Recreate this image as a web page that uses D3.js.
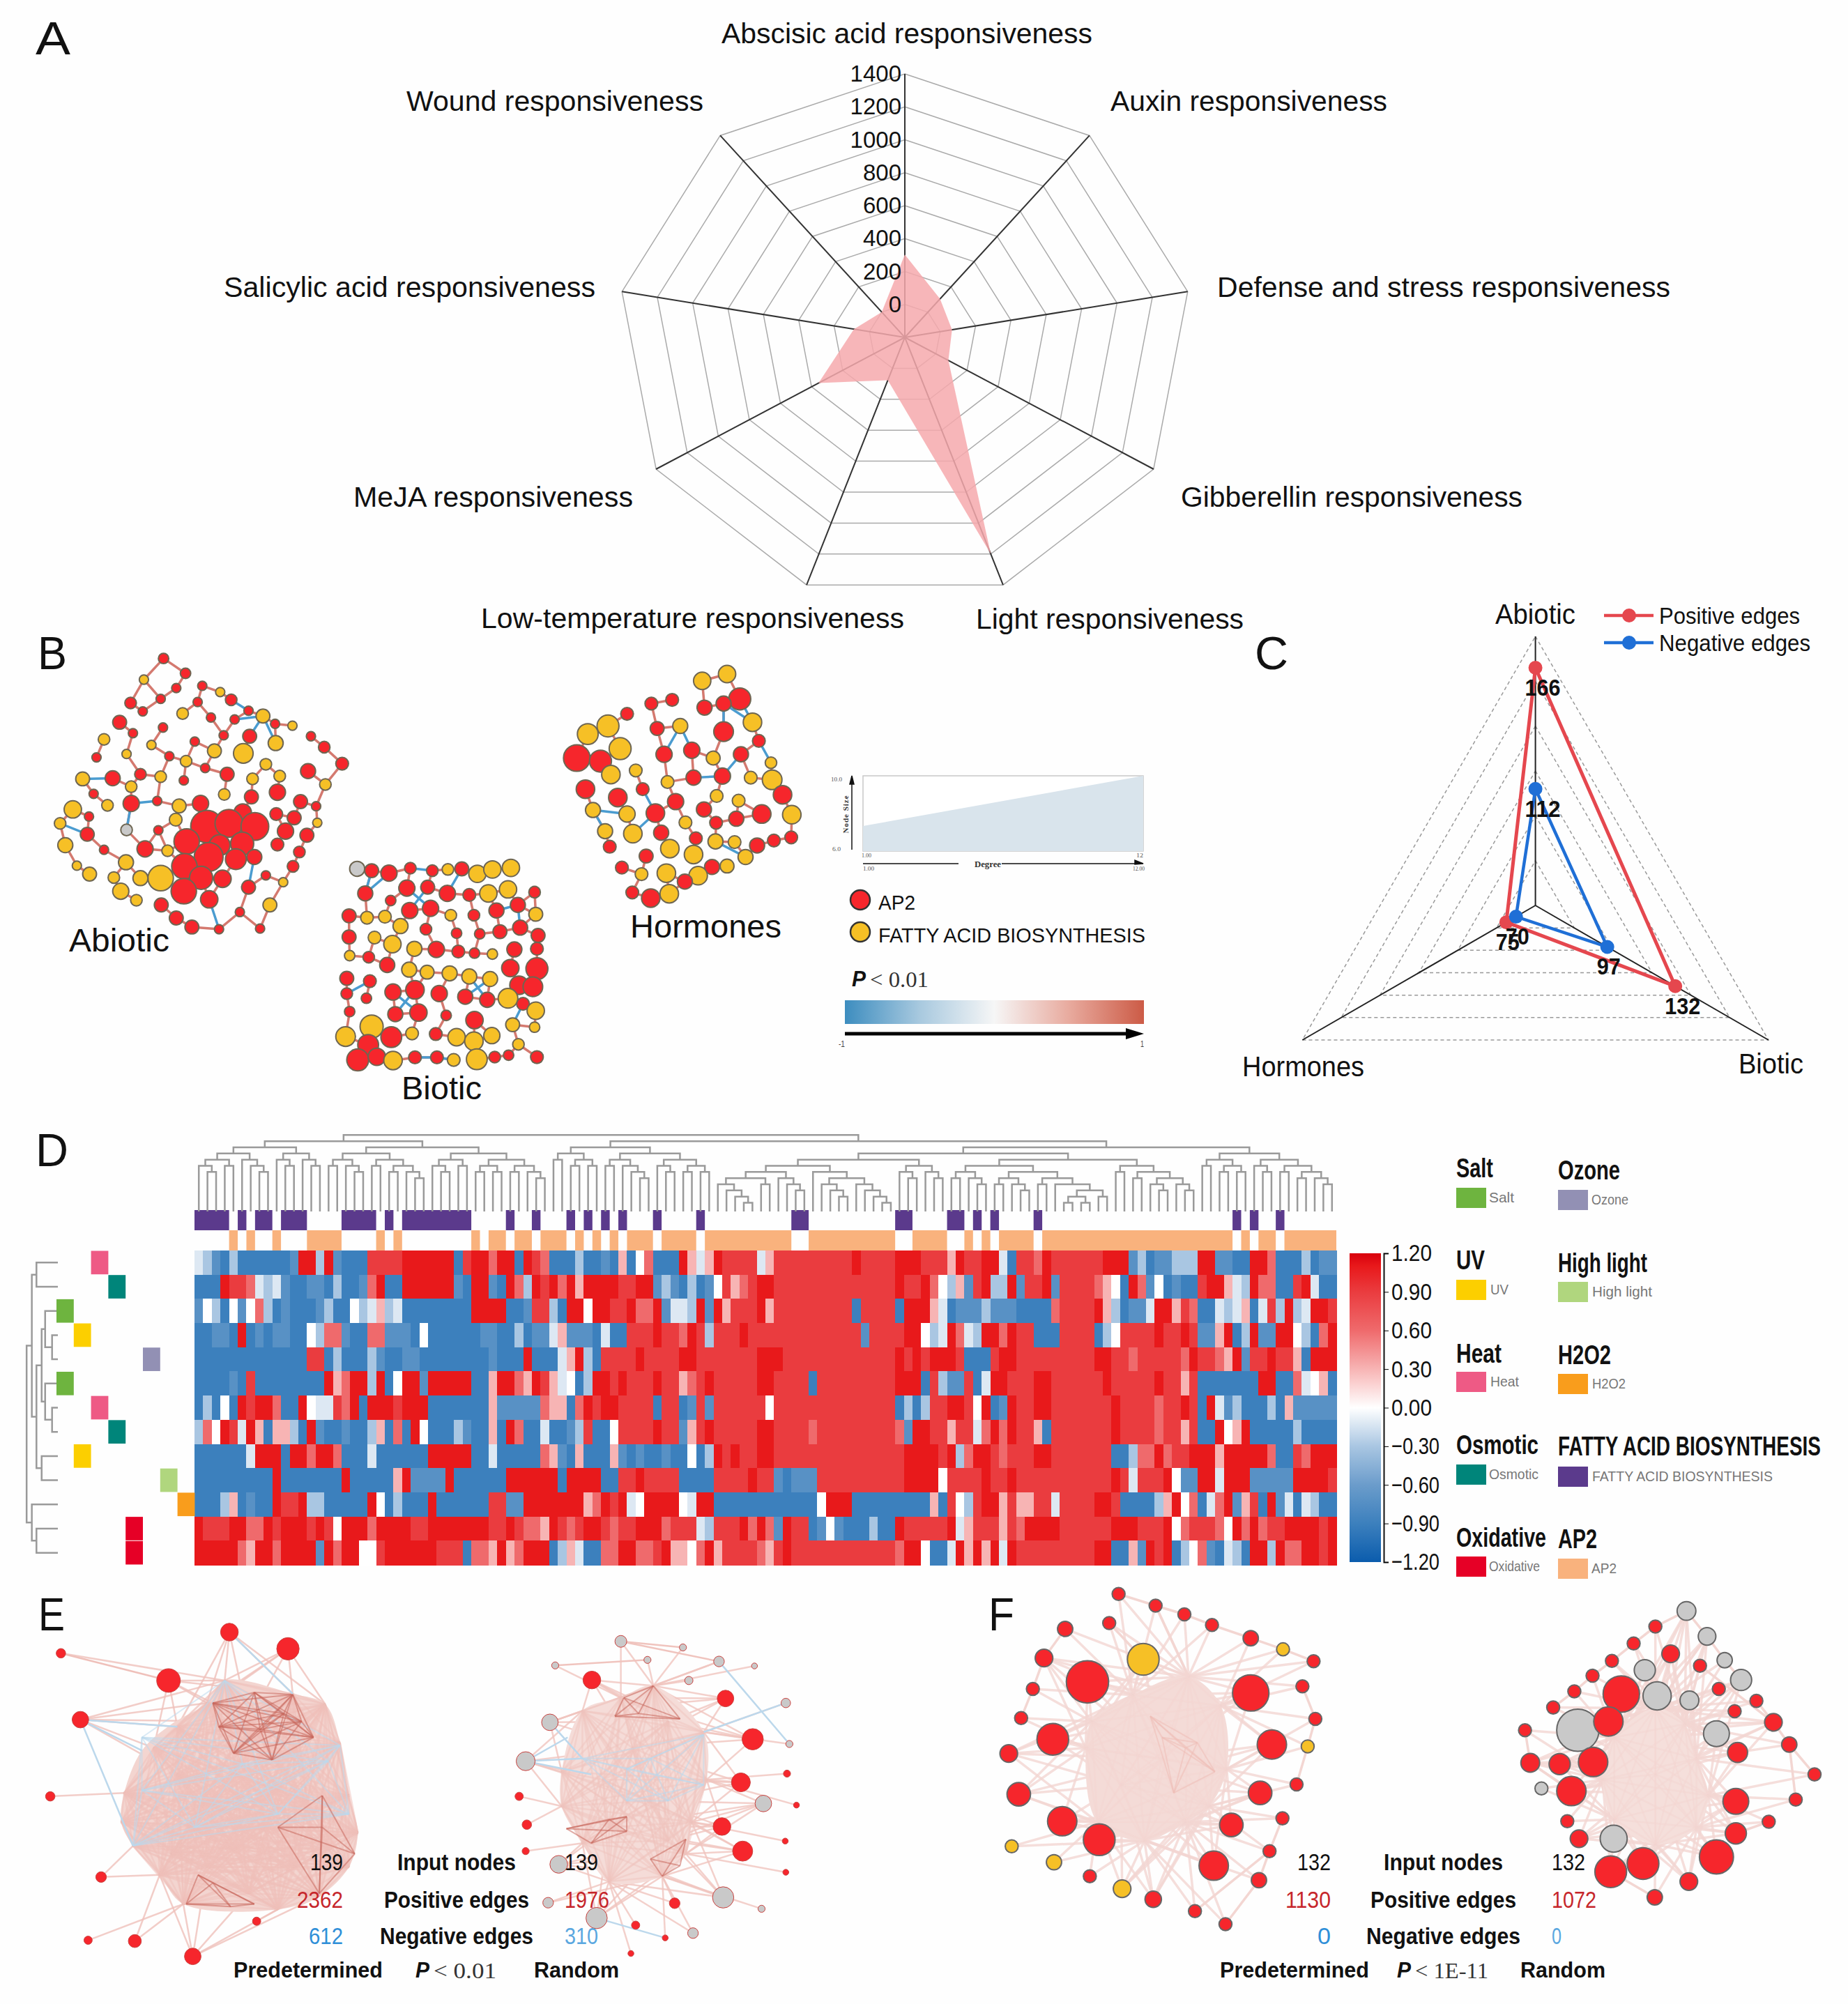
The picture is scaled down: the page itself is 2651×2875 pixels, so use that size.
<!DOCTYPE html>
<html><head><meta charset="utf-8">
<script src="https://cdn.jsdelivr.net/npm/d3@7"></script>
<style>html,body{margin:0;background:#fefefe}svg{display:block}text{font-family:"Liberation Sans",Arial,sans-serif;fill:#111}</style>
</head><body><svg id="c" width="2651" height="2875"></svg>
<script>
// ---------- panel A data
const radarCategories=["Abscisic acid responsiveness","Auxin responsiveness","Defense and stress responsiveness","Gibberellin responsiveness","Light responsiveness","Low-temperature responsiveness","MeJA responsiveness","Salicylic acid responsiveness","Wound responsiveness"];
const radarValues=[303,105,67,80,1200,77,355,88,0];
const radarTicks=[0,200,400,600,800,1000,1200,1400];
// ---------- panel C data
const triCategories=["Abiotic","Biotic","Hormones"];
const triPositive=[166,132,75];
const triNegative=[112,97,70];
const triRings=[80,100,120,140,160,180];
// ---------- panel D data
const heatA=["ilmblbbbbbbmRRlRmbbbrrrrRRRRRRbrRRsRRbRrsbbb","bbbRrrsilimbbmmblbbmsRbbRRRRRRmbRRmbRslRrRsR","mwlbwmwslbmbbbmlbbwliplibbbbbbbbRRRRbbmrrlbR","bbmmbRbmbmmbbwlssmbbssmmmbwbbbbbbmmbblbmmipm","bbbbbbbbbbbbbrrblbbblmbbmmbbbbbbbbmbbbRbbbip","bbbbmbrbbbbbbbbRpsRRlRbwRRmRRRRRbbpRRspRrpiw","blbwbRrRRsbbRwiirsRbRRRrRRRbbbbbbbpmmmmmsppb","lswRriRpbpplbRmbbmbblpbsbRwbbblmbbpbRsbbibbm","bbbbbbiRRRbRRsRRsbbbibbbbbbRRRRRbbibbbbbspmb","bbbbbbbbbRbbbbbbbRbbbbbpRmmmmRbbbbbbRRRRRRbR","bbblpbmbbRrrRllbbbbbRwblbbbRbbbbbbrrmmRRRRRR","RrrrRRssRrRRRrRrwRRRsRRRRrrRRRRRRRrrRrsspRrs","RRRRRspRRsRRRRmRsRRwwrRRRRRRrrrbsspRpsRRRblp"];
const heatB=["lbbmbpbwsbbbRpipRrrrriprrrrrrrrrRrrrrRRRrrrp","pRRRRrrRRmlmblbmwrpsrRRrrrrrrrrrrrrrrRrrRswl","RwRRrrRssRmiilRmRprrrRprrrrrrrrrbrrrrbRRRpib","mmbibbrrrRrrsRrlrrrRrrrrrrrrrrrrrmrrrrRRwliR","RlbrrrrRrrrrRRrrrrrrrRRRrrrrrrrrrrrrrRrRrRRR","blRRrRrrrRrrpsrRrrrrrRRrrrrbrrrrrrrrrRRRbrlm","sRrRRrrrrbrrbmrmrrrrrrwrrrrrrrrrrrrrrblblrrR","lrbbwrrrrRrrmprRrrrrrRRrrrrsrrrrrrrrrsmRRrrp","pbbbpmbmbbmbbwblRrRrrRRrrrrrrrrrrrrrrrRRRRrR","RRRbbrrRrrrrbbbbrrrrRrrmbmmmrrrrrrrrrrRRRRwr","RpsRrRiwRRRRwiRRbbbbbbbbbbbbwRRRbbbbbbbbbpbr","rRRrsrrRRRsrrrilrrrRsRsmRrrbmwmbbblbbRrrrrrR","ibbssRRssrRppwsRprrrrsprRrrrrrrrrrrrrsRRwbbi"];
const heatC=["RrrRRibrrsRrrrrrrRRRmlbmmlllRRmmbbRRsbbblbmm","pmrRllRmrrRmrrrrspwbRsmwbmbbrRRpilRssbbrRibb","mmmlmmmbbbbsrrrrRplbmmiRRprsbbilipbirlRliRRr","silRRsRrrbbbrrrrblwrrrrRrrRrmmpRblRmmRRwlbsR","rbbbrRRrrrrrrrrrRRrrsrrrrrsRrrspRmrrRrrpbRRR","mrbiRRrrrRRrrrrrrRrrrrrRrrprbbbbbbbRRbbsiwpb","RrwRbmRrrRRrrrrrrrRrrrrsrrRrbRimlbbblbpmmmmm","rrisRsRrrpbrrrrrrrRrrrrsrrprbbRwpRbbbbblbbbb","lsRRrsrrrRRrrrrrrrbblssRsrrRRRpRRRRRsbbrsRRR","rrrRrrRrrrrrrrrrrrRrirrrRwmmRRiRRRmmmmmRRRRr","wlrRRprpprrirrrrRRrbbbblpRwsbisRmprbRmibilbb","iprrrprsRRRRrrrrrrRRRrrrRwsrrrswRsRsrrRRRRrR","RpRpRiRrrrrrrrrrRRbbpmRrRblwsmbilbRRlRssRRrR"];
const heatLevels={b:-.9,m:-.72,l:-.3,i:-.12,w:0,p:.3,s:.6,r:.9,R:1.1};
const colorTicks=[1.2,.9,.6,.3,0,-.3,-.6,-.9,-1.2];
const rowGroups=["Heat","Osmotic","Salt","UV","Ozone","Salt","Heat","Osmotic","UV","High light","H2O2","Oxidative","Oxidative"];
const groupOrder=["Salt","UV","Heat","Osmotic","Oxidative","Ozone","High light","H2O2"];
const groupColors=["#6eb43f","#fccf00","#ee5a85","#00857a","#e60026","#9290b4","#b0d67e","#f99d1c"];
const fattyCols=[[0,3],[5,5],[7,8],[10,12],[17,20],[22,22],[24,31],[36,36],[39,39],[43,43],[45,45],[47,47],[49,49],[53,53],[58,58],[69,70],[81,82],[87,88],[90,90],[92,92],[97,97],[120,120],[122,122],[125,125]];
const ap2Cols=[[4,4],[6,6],[9,9],[13,16],[21,21],[23,23],[32,32],[34,35],[37,38],[40,42],[44,44],[46,46],[48,48],[50,52],[54,57],[59,68],[71,80],[83,86],[89,89],[91,91],[93,96],[98,119],[121,121],[123,124],[126,131]];
const colTreeA=[2,[3,[4,[5,0,[6,0,0]],[5,0,0]],[4,0,[5,0,[6,0,0]]]],[3,[4,0,[5,0,0]],[4,0,[5,0,0]]]];
const colTreeB=[2,[3,[4,[5,0,0],[5,0,[6,0,0]]],[4,[5,0,0],[5,[6,0,0],[6,0,[7,0,0]]]]],[3,[4,[5,0,[6,0,0]],[5,0,0]],[4,[5,[6,0,0],[6,0,0]],[5,[6,0,0],[6,0,[7,0,0]]]]]];
const colTreeC=[2,[3,[4,0,0],[4,[5,0,0],[5,0,0]]],[3,[4,[5,0,0],[5,0,[6,0,[7,0,0]]]],[4,[5,0,[6,0,0]],[5,[6,0,0],[6,0,0]]]]];
const colTreeD=[2,[3,[4,[5,[6,[7,[8,0,[9,0,[10,0,[11,0,0]]]],[8,0,0]],[7,0,[8,0,[9,0,0]]]],[6,0,[7,[8,0,[9,0,[10,0,0]]],[8,0,[9,0,[10,0,[11,0,0]]]]]]],[5,[6,0,[7,0,0]],[6,0,[7,0,0]]]],[4,[5,[6,[7,0,0],[7,0,[8,0,0]]],[6,[7,[8,0,0],[8,0,[9,0,0]]],[7,[8,0,0],[8,0,[9,[10,[11,0,0],[11,0,0]],[10,0,0]]]]]],[5,[6,0,0],[6,[7,0,0],[7,[8,0,[9,0,0]],[8,0,[9,0,0]]]]]]],[3,[4,[5,0,0],[5,[6,0,0],[6,0,0]]],[4,[5,0,[6,0,0]],[5,[6,0,0],[6,[7,0,0],[7,0,[8,0,0]]]]]]];
const rowTree=[46,[55,[63,0,0],[63,[72,[78,0,[90,0,0]],[78,0,[90,0,0]]],[72,0,0]]],[55,0,[63,0,0]]];
// ---------- panel B data: [x, y, size, kind]
const abioticNodes=[[283,100,9,"r"],[321,148,9,"r"],[249,168,8,"y"],[305,195,8,"r"],[350,188,8,"r"],[381,208,8,"y"],[226,243,10,"r"],[278,230,8,"r"],[342,240,8,"r"],[400,233,10,"r"],[247,270,8,"r"],[316,277,10,"y"],[430,268,8,"r"],[455,285,12,"y"],[207,305,12,"r"],[365,290,8,"r"],[406,296,8,"r"],[282,322,8,"r"],[476,310,8,"r"],[506,316,8,"y"],[180,360,10,"y"],[230,340,8,"r"],[387,347,8,"r"],[432,350,12,"r"],[538,350,8,"r"],[337,367,8,"r"],[477,372,13,"y"],[262,378,8,"y"],[561,385,10,"r"],[371,397,12,"y"],[421,405,17,"y"],[219,407,8,"y"],[293,414,8,"r"],[167,418,8,"r"],[322,430,10,"y"],[592,438,11,"r"],[460,440,10,"y"],[355,452,8,"r"],[533,462,13,"r"],[195,485,13,"r"],[243,472,10,"r"],[143,487,12,"y"],[393,472,12,"r"],[278,480,10,"y"],[484,478,10,"y"],[318,492,8,"r"],[437,487,10,"y"],[563,505,10,"y"],[227,512,10,"y"],[480,530,14,"r"],[388,537,10,"y"],[162,535,8,"r"],[435,545,12,"r"],[272,558,8,"r"],[347,566,14,"r"],[227,566,14,"r"],[186,572,10,"y"],[310,574,12,"y"],[520,560,12,"r"],[547,575,8,"r"],[126,585,15,"y"],[420,595,15,"r"],[478,600,11,"r"],[154,608,8,"r"],[304,618,11,"y"],[509,612,12,"r"],[358,640,28,"r"],[396,630,24,"r"],[441,640,24,"r"],[104,630,10,"y"],[549,628,8,"y"],[219,651,10,"g"],[274,652,8,"r"],[151,665,12,"r"],[494,655,14,"r"],[531,668,12,"r"],[323,688,22,"r"],[419,695,20,"r"],[113,700,13,"y"],[480,698,11,"r"],[180,715,8,"r"],[251,712,14,"r"],[290,718,10,"y"],[380,700,18,"r"],[361,738,25,"r"],[518,722,10,"r"],[440,738,13,"r"],[408,745,18,"r"],[218,755,13,"y"],[133,766,8,"y"],[319,768,22,"r"],[507,768,10,"r"],[155,793,12,"y"],[278,806,22,"y"],[243,806,13,"y"],[197,804,10,"y"],[348,805,20,"r"],[385,808,15,"r"],[460,797,8,"r"],[490,819,8,"y"],[430,835,12,"r"],[318,848,22,"r"],[209,848,14,"y"],[362,874,15,"r"],[236,877,10,"y"],[279,892,12,"r"],[467,892,12,"y"],[415,915,8,"r"],[305,934,12,"r"],[332,963,12,"r"],[379,970,8,"r"],[450,968,8,"r"]];
const bioticNodes=[[618,776,13,"g"],[643,782,12,"r"],[673,790,14,"r"],[710,774,10,"r"],[748,782,10,"r"],[775,778,10,"y"],[799,776,12,"r"],[826,792,15,"y"],[852,778,15,"y"],[884,773,15,"y"],[632,855,13,"r"],[704,838,14,"r"],[740,835,12,"r"],[774,855,14,"r"],[812,860,11,"r"],[845,855,15,"y"],[879,842,15,"y"],[925,851,10,"r"],[676,878,9,"r"],[709,910,14,"r"],[745,903,14,"r"],[859,910,13,"r"],[896,892,13,"r"],[780,925,10,"y"],[820,925,10,"r"],[927,922,12,"y"],[604,927,12,"r"],[635,933,11,"y"],[666,930,11,"y"],[693,960,13,"y"],[900,965,13,"r"],[865,978,12,"r"],[737,970,10,"r"],[604,995,12,"r"],[790,983,9,"r"],[830,985,9,"r"],[931,990,12,"r"],[648,997,11,"y"],[679,1018,15,"y"],[717,1033,13,"y"],[755,1035,14,"r"],[793,1042,11,"r"],[821,1047,9,"r"],[852,1050,9,"y"],[890,1035,13,"r"],[929,1033,11,"r"],[605,1055,9,"y"],[638,1060,10,"r"],[670,1085,13,"r"],[708,1100,13,"y"],[883,1095,15,"r"],[929,1097,19,"r"],[739,1108,12,"y"],[778,1112,13,"y"],[600,1128,12,"r"],[640,1137,11,"r"],[812,1122,13,"y"],[848,1130,13,"y"],[898,1150,16,"r"],[922,1155,17,"r"],[680,1172,14,"r"],[718,1165,16,"r"],[760,1177,14,"r"],[805,1187,13,"r"],[843,1197,13,"r"],[879,1192,17,"y"],[600,1177,10,"r"],[634,1192,9,"r"],[905,1210,11,"r"],[927,1232,15,"y"],[605,1235,9,"r"],[684,1243,13,"r"],[724,1238,15,"r"],[772,1247,9,"r"],[821,1262,15,"r"],[887,1277,12,"y"],[925,1285,9,"y"],[643,1283,20,"y"],[598,1315,17,"y"],[677,1317,18,"r"],[713,1305,11,"y"],[754,1307,11,"r"],[790,1317,15,"y"],[820,1330,16,"y"],[851,1312,14,"y"],[897,1340,10,"y"],[637,1342,18,"r"],[619,1390,19,"r"],[652,1380,15,"r"],[680,1392,16,"y"],[718,1382,11,"r"],[756,1382,11,"r"],[785,1390,11,"y"],[825,1388,18,"y"],[856,1381,10,"r"],[880,1375,9,"r"],[929,1381,11,"r"]];
const hormoneNodes=[[1258,150,15,"y"],[1215,172,15,"y"],[1280,230,19,"r"],[1252,245,13,"r"],[1219,258,13,"r"],[1163,233,11,"r"],[1127,245,11,"r"],[1085,278,11,"r"],[1302,305,16,"y"],[1252,335,17,"r"],[1052,317,19,"y"],[1017,343,18,"y"],[1137,325,12,"r"],[1177,317,13,"y"],[1073,390,19,"y"],[1313,365,11,"r"],[998,420,23,"r"],[1039,430,19,"r"],[1149,408,14,"r"],[1197,395,14,"r"],[1282,408,13,"r"],[1234,420,12,"y"],[1334,435,10,"y"],[1250,478,14,"r"],[1100,460,11,"y"],[1057,473,16,"y"],[1200,483,13,"r"],[1299,483,11,"y"],[1336,490,17,"y"],[1155,497,11,"y"],[1013,520,16,"r"],[1112,520,11,"r"],[1354,538,16,"r"],[1069,547,16,"r"],[1240,542,11,"y"],[1169,560,14,"r"],[1278,557,11,"y"],[1218,585,13,"r"],[1026,587,13,"y"],[1134,597,16,"r"],[1085,600,14,"y"],[1318,600,16,"r"],[1370,602,16,"y"],[1274,615,13,"r"],[1239,628,11,"r"],[1186,627,11,"y"],[1144,660,13,"r"],[1047,655,13,"y"],[1095,663,16,"y"],[1055,705,11,"r"],[1204,678,11,"r"],[1238,688,13,"y"],[1271,690,11,"y"],[1369,675,11,"r"],[1339,685,11,"r"],[1310,701,13,"r"],[1159,711,16,"y"],[1200,730,16,"y"],[1118,735,12,"r"],[1290,738,13,"y"],[1076,772,11,"r"],[1258,767,12,"y"],[1232,770,13,"r"],[1153,790,16,"y"],[1110,793,11,"y"],[1208,798,16,"y"],[1185,817,13,"r"],[1094,852,11,"r"],[1126,870,16,"r"],[1158,856,16,"y"]];
const networkBlueEdges=[[406,296,455,285],[400,233,430,268],[455,285,477,372],[455,285,432,350],[143,487,195,485],[227,566,272,558],[227,566,219,651],[104,630,151,665],[430,835,440,738],[362,874,379,970],[643,782,632,855],[673,790,632,855],[710,774,748,782],[799,776,774,855],[704,838,745,903],[740,835,709,910],[859,910,896,892],[896,892,900,965],[600,1177,640,1137],[680,1172,724,1238],[718,1165,684,1243],[805,1187,848,1130],[843,1197,812,1122],[718,1382,756,1382],[756,1382,785,1390],[905,1210,887,1277],[1252,245,1302,305],[1252,245,1252,335],[1280,230,1302,305],[1177,317,1149,408],[1177,317,1197,395],[1282,408,1250,478],[1250,478,1200,483],[1313,365,1334,435],[1026,587,1085,600],[1026,587,1047,655],[1112,520,1134,597],[1134,597,1095,663],[1238,688,1290,738]];
// ---------- panels E / F data
const ELeft={hull:[[380,345],[495,395],[550,435],[575,580],[590,780],[605,920],[590,1050],[540,1160],[470,1210],[310,1190],[270,1080],[225,970],[205,880],[210,770],[240,610],[290,510],[350,430]],
 pink:[[260,600],[300,520],[380,345],[495,395],[550,435],[575,580],[590,780],[605,920],[590,1050],[540,1160],[470,1210],[310,1190],[270,1080],[225,970],[205,880],[210,770],[350,430],[400,700],[450,900],[320,900],[500,600],[350,1050],[500,1050],[420,1150],[300,700],[520,800],[420,500],[345,810],[470,760],[400,980],[560,980],[290,1000]],
 blue:[[240,560],[225,970],[330,900],[410,660],[555,650],[575,590],[380,345],[590,850],[240,760],[470,850]],
 dark:[[[360,430],[430,390],[495,398],[510,500],[530,560],[460,645],[395,620],[370,520],[440,530],[480,470]],[[315,1190],[335,1080],[390,1200],[430,1190],[360,1110]],[[545,780],[470,900],[545,900],[540,1150],[600,1000]]],
 nodes:[[103,242,8,"r"],[285,345,20,"r"],[388,162,15,"r"],[487,225,19,"r"],[136,493,14,"r"],[85,783,8,"r"],[171,1088,9,"r"],[149,1327,7,"r"],[228,1330,11,"r"],[326,1388,14,"r"],[434,1255,7,"r"]],
 extra:[[103,242,285,345,"p"],[136,493,300,520,"b"],[136,493,240,610,"b"],[136,493,225,970,"b"],[388,162,495,395,"b"]]};
const ERight={hull:[[1105,365],[1190,540],[1195,720],[1170,880],[1160,1000],[1120,1085],[1030,1105],[985,960],[950,820],[950,690],[985,460],[1050,410]],
 pink:[[1105,365],[1190,540],[1195,720],[1170,880],[1160,1000],[1120,1085],[1030,1105],[985,960],[950,820],[950,690],[985,460],[1050,410],[1070,600],[1100,800],[1030,900],[1130,950],[1020,720],[1130,500]],
 blue:[[985,640],[1100,640],[1190,550],[1190,740],[1060,800],[1130,800],[1060,680]],
 dark:[[[1105,365],[1055,410],[1040,480],[1080,470],[1150,490]],[[1100,1020],[1160,945],[1150,1045],[1120,1085]],[[958,905],[1060,860],[1060,915],[1000,960],[1030,870]]],
 nodes:[[1050,197,10,"g"],[1155,220,6,"g"],[1095,267,6,"g"],[939,288,6,"g"],[1216,273,9,"g"],[1276,290,5,"g"],[1165,345,7,"g"],[1329,430,8,"g"],[1335,585,6,"g"],[930,503,14,"g"],[889,650,16,"g"],[1291,810,14,"g"],[945,1040,15,"g"],[927,1185,9,"g"],[1223,1165,18,"g"],[1009,1243,18,"g"],[1172,1300,9,"g"],[1288,1208,6,"g"],[1001,343,15,"r"],[1227,413,14,"r"],[1273,567,18,"r"],[1253,730,16,"r"],[1331,697,6,"r"],[1347,816,5,"r"],[878,783,7,"r"],[891,890,8,"r"],[889,990,6,"r"],[1221,897,15,"r"],[1328,952,5,"r"],[1256,990,17,"r"],[1329,1070,5,"r"],[1141,1187,9,"r"],[1075,1270,7,"r"],[1125,1318,5,"r"],[1067,1377,5,"r"]],
 extra:[[889,650,985,640,"b"],[889,650,960,560,"b"],[889,650,1000,700,"b"],[930,503,985,640,"b"],[1216,273,1335,585,"b"],[1329,430,1190,540,"b"],[1050,197,1155,220,"p"],[1050,197,1216,273,"p"],[939,288,1095,267,"p"],[1009,1243,1125,1318,"b"]]};
const FLeft={hull:[[445,330],[500,440],[510,680],[480,820],[440,880],[370,950],[290,880],[270,600],[280,500],[350,400]],
 pink:[[445,330],[500,440],[510,680],[480,820],[440,880],[370,950],[290,880],[270,600],[280,500],[350,400],[400,640],[330,740]],
 blue:[],dark:[[[380,480],[440,600],[400,560],[460,580],[420,770],[490,690]]],
 nodes:[[326,18,11,"r"],[389,62,11,"r"],[438,95,11,"r"],[485,135,11,"r"],[551,185,13,"r"],[658,272,11,"r"],[235,150,13,"r"],[310,128,11,"r"],[199,260,15,"r"],[273,350,36,"r"],[368,265,27,"y"],[606,227,11,"y"],[551,392,31,"r"],[639,367,11,"r"],[180,377,11,"r"],[160,487,11,"r"],[661,490,11,"r"],[214,567,27,"r"],[587,587,25,"r"],[648,594,11,"y"],[139,621,15,"r"],[629,738,11,"r"],[156,775,20,"r"],[567,770,20,"r"],[230,877,25,"r"],[518,891,20,"r"],[605,866,11,"r"],[293,947,27,"r"],[144,972,11,"y"],[583,990,11,"r"],[216,1032,13,"y"],[488,1045,25,"r"],[277,1085,11,"r"],[565,1100,13,"r"],[332,1132,15,"y"],[385,1172,14,"r"],[456,1217,11,"r"],[508,1266,11,"r"]],
 extra:[[326,18,389,62,"p"],[389,62,438,95,"p"],[438,95,485,135,"p"],[485,135,551,185,"p"],[551,185,606,227,"p"],[606,227,658,272,"p"],[389,62,445,330,"p"],[235,150,199,260,"p"],[199,260,180,377,"p"],[180,377,160,487,"p"],[310,128,368,265,"p"],[639,367,661,490,"p"],[661,490,648,594,"p"],[648,594,629,738,"p"],[605,866,583,990,"p"],[583,990,565,1100,"p"],[565,1100,508,1266,"p"],[583,990,456,1217,"p"]]};
const FRight={hull:[[1240,450],[1290,510],[1310,640],[1330,780],[1310,900],[1240,965],[1170,870],[1150,720],[1170,560]],
 pink:[[1240,450],[1290,510],[1310,640],[1330,780],[1310,900],[1240,965],[1170,870],[1150,720],[1170,560],[1240,700]],
 blue:[],dark:[],
 nodes:[[1293,82,16,"g"],[1328,178,15,"g"],[1358,268,13,"g"],[1386,343,18,"g"],[1222,306,18,"g"],[1243,403,24,"g"],[1298,420,16,"g"],[1108,533,36,"g"],[1344,546,22,"g"],[1046,753,11,"g"],[1169,943,23,"g"],[1240,141,11,"r"],[1203,205,11,"r"],[1266,244,15,"r"],[1166,271,11,"r"],[1316,289,11,"r"],[1133,327,11,"r"],[1348,377,11,"r"],[1102,386,11,"r"],[1182,396,31,"r"],[1412,422,11,"r"],[1066,447,11,"r"],[1375,461,11,"r"],[1160,500,25,"r"],[1441,503,15,"r"],[1018,533,11,"r"],[1468,587,13,"r"],[1380,617,17,"r"],[1027,656,16,"r"],[1077,661,18,"r"],[1134,653,25,"r"],[1511,700,11,"r"],[1097,763,25,"r"],[1377,802,22,"r"],[1479,795,11,"r"],[1090,877,11,"r"],[1433,879,11,"r"],[1377,923,18,"r"],[1110,943,15,"r"],[1344,1012,29,"r"],[1219,1037,27,"r"],[1164,1068,27,"r"],[1297,1105,15,"r"],[1239,1165,13,"r"]],
 extra:[[1293,82,1240,141,"p"],[1240,141,1203,205,"p"],[1203,205,1166,271,"p"],[1166,271,1133,327,"p"],[1133,327,1102,386,"p"],[1102,386,1066,447,"p"],[1293,82,1328,178,"p"],[1328,178,1358,268,"p"],[1358,268,1386,343,"p"],[1316,289,1441,503,"p"],[1441,503,1468,587,"p"],[1468,587,1511,700,"p"],[1468,587,1479,795,"p"],[1441,503,1412,422,"p"],[1018,533,1027,656,"p"],[1433,879,1377,923,"p"],[1097,763,1027,656,"p"],[1239,1165,1164,1068,"p"]]};
const statsE=[["139","2362","612"],["139","1976","310"]];
const statsF=[["132","1130","0"],["132","1072","0"]];
const statLabels=["Input nodes","Positive edges","Negative edges"];

const svg=d3.select("#c");
const g=svg.append("g");
// text fitted to an exact span, so the squeezed lettering of the figure is kept
function fit(x0,x1,y,s,size,o={}){
 return g.append("text").attr("x",x0).attr("y",y).attr("dy",".35em").attr("font-size",size)
  .attr("textLength",x1-x0).attr("lengthAdjust","spacingAndGlyphs")
  .attr("font-weight",o.weight||null).attr("font-style",o.style||null)
  .style("fill",o.fill||"#111").style("font-family",o.family||null).text(s);
}
[["A",51,101,55],["B",54,96,937],["C",1800,1848,937],["D",51,98,1650],["E",55,93,2316],["F",1418,1455,2316]].forEach(d=>fit(d[1],d[2],d[3],d[0],66));

// ---------- A: radar
(function(){
 const cx=1298,cy=484,sx=1.09;
 const r=d3.scaleLinear().domain([-200,1400]).range([0,378]);
 const ang=d3.scaleLinear().domain([0,radarCategories.length]).range([0,2*Math.PI]);
 const pt=(i,v)=>[cx+sx*r(v)*Math.sin(ang(i)),cy-r(v)*Math.cos(ang(i))];
 const line=d3.line().curve(d3.curveLinearClosed);
 radarTicks.forEach(t=>g.append("path").attr("d",line(radarCategories.map((c,i)=>pt(i,t)))).attr("fill","none").attr("stroke","#aaa").attr("stroke-width",1.5));
 radarCategories.forEach((c,i)=>{const p=pt(i,1400);g.append("line").attr("x1",cx).attr("y1",cy).attr("x2",p[0]).attr("y2",p[1]).attr("stroke","#333").attr("stroke-width",2)});
 g.append("path").attr("d",line(radarValues.map((v,i)=>pt(i,v)))).attr("fill","#f6a9ad").attr("fill-opacity",.85);
 const ax=d3.axisLeft(d3.scaleLinear().domain([-200,1400]).range([cy,cy-378])).tickValues(radarTicks).tickFormat(d3.format("d")).tickSize(0).tickPadding(5);
 const a=g.append("g").attr("transform",`translate(${cx},0)`).call(ax);
 a.select(".domain").remove();
 a.selectAll("text").attr("font-size",33).style("fill","#111");
 const spans=[[1035,1567,48],[1593,1990,145],[1746,2396,412],[1694,2184,713],[1400,1784,888],[690,1297,887],[507,908,713],[321,854,412],[583,1009,145]];
 radarCategories.forEach((c,i)=>fit(spans[i][0],spans[i][1],spans[i][2],c,40));
})();

// ---------- B: networks
const bx=d3.scaleLinear().domain([0,1568]).range([0,1300]);
const by=d3.scaleLinear().domain([0,1568]).range([900,1600]);
const kindFill={r:"#f6262c",y:"#f6c026",g:"#c9c9c9"};
function autoEdges(nodes){
 const seen=new Set(),out=[];
 nodes.forEach((n,i)=>{
  const order=nodes.map((m,j)=>[Math.hypot(bx(m[0])-bx(n[0]),by(m[1])-by(n[1])),j]).filter(d=>d[1]!==i).sort((a,b)=>a[0]-b[0]);
  order.slice(0,2).forEach((d,k)=>{
   if(k==1&&d[0]>order[0][0]*1.15)return;
   const key=Math.min(i,d[1])+"-"+Math.max(i,d[1]);
   if(!seen.has(key)){seen.add(key);out.push([n,nodes[d[1]]])}
  })
 });
 return out;
}
[abioticNodes,bioticNodes,hormoneNodes].forEach(nodes=>{
 g.selectAll(null).data(autoEdges(nodes)).join("line").attr("x1",d=>bx(d[0][0])).attr("y1",d=>by(d[0][1])).attr("x2",d=>bx(d[1][0])).attr("y2",d=>by(d[1][1])).attr("stroke","#d4796f").attr("stroke-width",3.5);
});
g.selectAll(null).data(networkBlueEdges).join("line").attr("x1",d=>bx(d[0])).attr("y1",d=>by(d[1])).attr("x2",d=>bx(d[2])).attr("y2",d=>by(d[3])).attr("stroke","#4a9cd0").attr("stroke-width",3.5);
[abioticNodes,bioticNodes,hormoneNodes].forEach(nodes=>{
 g.selectAll(null).data(nodes).join("circle").attr("cx",d=>bx(d[0])).attr("cy",d=>by(d[1])).attr("r",d=>bx(d[2])).attr("fill",d=>kindFill[d[3]]).attr("stroke","#6e6652").attr("stroke-width",2);
});
fit(99,243,1349,"Abiotic",46);fit(576,691,1561,"Biotic",46);fit(904,1121,1329,"Hormones",46);

// size legend
(function(){
 const sx=d3.scaleLinear().domain([1,12]).range([1238,1640]);
 const sy=d3.scaleLinear().domain([6,10]).range([1221,1113]);
 g.append("rect").attr("x",1238).attr("y",1113).attr("width",402).attr("height",108).attr("fill","#fff").attr("stroke","#c8c8c8").attr("stroke-width",1.5);
 g.append("path").attr("d",d3.area().x(d=>sx(d[0])).y0(sy(6)).y1(d=>sy(d[1]))([[1,7.33],[12,10]])).attr("fill","#d9e4ec");
 g.append("path").attr("d","M1222 1219V1122M1222 1113l-3 12h6zM1238 1239H1375M1437 1239H1640M1640 1239l-12 -5v6z").attr("stroke","#111").attr("stroke-width",1.5).attr("fill","#111");
 const f={family:"Liberation Serif",fill:"#555"};
 fit(1192,1208,1118,"10.0",8,f);fit(1194,1206,1218,"6.0",8,f);fit(1236,1250,1227,"1.00",8,f);fit(1630,1640,1227,"12",8,f);
 fit(1238,1254,1246,"1.00",8,f);fit(1625,1642,1246,"12.00",8,f);
 fit(1398,1436,1240,"Degree",12,{family:"Liberation Serif",weight:"bold",fill:"#333"});
 g.append("text").attr("transform","translate(1213,1168) rotate(-90)").attr("text-anchor","middle").attr("dy",".35em").attr("font-size",11).attr("font-weight","bold").style("font-family","Liberation Serif").style("fill","#333").attr("letter-spacing",1).text("Node Size");
 g.append("circle").attr("cx",1234).attr("cy",1291).attr("r",14).attr("fill",kindFill.r).attr("stroke","#333").attr("stroke-width",2.5);
 g.append("circle").attr("cx",1234).attr("cy",1337).attr("r",14).attr("fill",kindFill.y).attr("stroke","#333").attr("stroke-width",2.5);
 fit(1260,1313,1294,"AP2",30);fit(1260,1643,1341,"FATTY ACID BIOSYNTHESIS",30);
 fit(1222,1242,1404,"P",32,{weight:"bold",style:"italic"});fit(1248,1332,1405,"< 0.01",32,{family:"Liberation Serif",fill:"#333"});
 const lg=svg.append("defs").append("linearGradient").attr("id","pg");
 [[0,"#3d8dbf"],[.25,"#a8c9df"],[.5,"#f6f6f6"],[.75,"#e8aa9e"],[1,"#cc5b46"]].forEach(s=>lg.append("stop").attr("offset",s[0]).attr("stop-color",s[1]));
 g.append("rect").attr("x",1212).attr("y",1435).attr("width",429).attr("height",34).attr("fill","url(#pg)");
 g.append("path").attr("d","M1212 1483H1625").attr("stroke","#000").attr("stroke-width",5);
 g.append("path").attr("d","M1641 1483l-26 -8v16z").attr("fill","#000");
 fit(1203,1212,1497,"-1",13,{fill:"#444"});fit(1636,1641,1497,"1",13,{fill:"#444"});
})();

// ---------- C: triangle radar
(function(){
 const cx=2202.6,cy=1299;
 const r=d3.scaleLinear().domain([60,180]).range([0,386]);
 const ang=i=>i*2*Math.PI/3;
 const pt=(i,v)=>[cx+r(v)*Math.sin(ang(i)),cy-r(v)*Math.cos(ang(i))];
 const line=d3.line().curve(d3.curveLinearClosed);
 triRings.forEach(t=>g.append("path").attr("d",line([0,1,2].map(i=>pt(i,t)))).attr("fill","none").attr("stroke","#999").attr("stroke-width",1.5).attr("stroke-dasharray","5 4"));
 [0,1,2].forEach(i=>{const p=pt(i,180);g.append("line").attr("x1",cx).attr("y1",cy).attr("x2",p[0]).attr("y2",p[1]).attr("stroke","#222").attr("stroke-width",2)});
 const ser=[[triPositive,"#e5474e",5],[triNegative,"#1f6fd6",4.5]];
 ser.forEach(s=>{
  g.append("path").attr("d",line(s[0].map((v,i)=>pt(i,v)))).attr("fill","none").attr("stroke",s[1]).attr("stroke-width",s[2]);
  g.selectAll(null).data(s[0]).join("circle").attr("cx",(v,i)=>pt(i,v)[0]).attr("cy",(v,i)=>pt(i,v)[1]).attr("r",10).attr("fill",s[1]);
 });
 ser.forEach(s=>s[0].forEach((v,i)=>{
  const p=pt(i,v),w=String(v).length==3?51:34;
  fit(p[0]-15,p[0]-15+w,p[1]+28,v,34,{weight:"bold"});
 }));
 fit(2145,2260,881,triCategories[0],40);fit(2494,2587,1526,triCategories[1],40);fit(1782,1957,1530,triCategories[2],40);
 [["Positive edges",883,"#e5474e",2582],["Negative edges",922,"#1f6fd6",2597]].forEach(d=>{
  g.append("line").attr("x1",2301).attr("x2",2372).attr("y1",d[1]).attr("y2",d[1]).attr("stroke",d[2]).attr("stroke-width",4.5);
  g.append("circle").attr("cx",2337).attr("cy",d[1]).attr("r",10).attr("fill",d[2]);
  fit(2380,d[3],d[1],d[0],34);
 });
})();

// ---------- D: heatmap
(function(){
 const rows=heatA.map((a,i)=>a+heatB[i]+heatC[i]);
 const color=d3.scaleLinear().domain([-1.2,-.9,-.6,-.3,0,.3,.6,.9,1.1,1.2]).range(["#0b5cad","#3c80bd","#6b9ccb","#a9c6e2","#ffffff","#f7b4b4","#ef6a6c","#ea3c3f","#e8191b","#d8000c"]);
 const x=d3.scaleLinear().domain([0,132]).range([279,1917]);
 const y=d3.scaleLinear().domain([0,13]).range([1794,2245]);
 const cw=x(1)-x(0),ch=y(1)-y(0);
 const cells=rows.flatMap((s,r)=>Array.from(s,(c,k)=>({r,k,v:heatLevels[c]})));
 g.append("g").attr("shape-rendering","crispEdges").selectAll("rect").data(cells).join("rect").attr("x",d=>x(d.k)).attr("y",d=>y(d.r)).attr("width",cw+.6).attr("height",ch+.6).attr("fill",d=>color(d.v));
 const spans=(list,y0,h,fill)=>g.append("g").selectAll("rect").data(list).join("rect").attr("x",d=>x(d[0])).attr("width",d=>x(d[1]+1)-x(d[0])).attr("y",y0).attr("height",h).attr("fill",fill);
 spans(fattyCols,1736,29,"#5b3a8c");spans(ap2Cols,1765,29,"#f9b27d");
 // column tree
 const root=d3.hierarchy([0,[1,colTreeA,colTreeB],[1,colTreeC,colTreeD]],d=>Array.isArray(d)?d.slice(1):null);
 let leafIdx=0;
 const lev=d3.scaleLinear().domain([0,11]).range([1628.3,1725.5]);
 root.eachAfter(n=>{if(!n.children){n.px=x(leafIdx+.5);leafIdx++;n.py=1738}else{n.px=(n.children[0].px+n.children[n.children.length-1].px)/2;n.py=lev(n.data[0])}});
 let dp="";root.each(n=>{if(n.children){const a=n.children[0],b=n.children[1];dp+=`M${a.px} ${a.py}V${n.py}H${b.px}V${b.py}`}});
 g.append("path").attr("d",dp).attr("fill","none").attr("stroke","#9a9a9a").attr("stroke-width",2.5);
 // row tree
 const rr=d3.hierarchy(rowTree,d=>Array.isArray(d)?d.slice(1):null);
 let ri=0;const rx=d3.scaleLinear().domain([0,100]).range([0,83]);
 rr.eachAfter(n=>{if(!n.children){n.py=y(ri+.5);ri++;n.px=rx(100)}else{n.py=(n.children[0].py+n.children[1].py)/2;n.px=rx(n.data[0])}});
 let dr="";rr.each(n=>{if(n.children){const a=n.children[0],b=n.children[1];dr+=`M${a.px} ${a.py}H${n.px}V${b.py}H${b.px}`}});
 g.append("path").attr("d",dr).attr("fill","none").attr("stroke","#9a9a9a").attr("stroke-width",2.5);
 // row colour squares
 const sqx=d3.scaleBand().domain(groupOrder).range([81,279.4]);
 g.selectAll(null).data(rowGroups).join("rect").attr("x",d=>sqx(d)).attr("width",sqx.bandwidth()).attr("y",(d,i)=>y(i)+.5).attr("height",ch-1).attr("fill",d=>groupColors[groupOrder.indexOf(d)]);
 // colour bar
 const cb=d3.scaleLinear().domain([-1.2,1.2]).range([2241,1798]);
 const lg=svg.select("defs").append("linearGradient").attr("id","cb").attr("x1",0).attr("x2",0).attr("y1",1).attr("y2",0);
 d3.range(-1.2,1.2001,.1).forEach(v=>lg.append("stop").attr("offset",(v+1.2)/2.4).attr("stop-color",color(v)));
 g.append("rect").attr("x",1936).attr("y",1798).attr("width",45).attr("height",443).attr("fill","url(#cb)");
 const ax=g.append("g").attr("transform","translate(1985,0)").call(d3.axisRight(cb).tickValues(colorTicks).tickFormat(d3.format(".2f")).tickSize(7).tickPadding(4));
 ax.select(".domain").attr("stroke","#111").attr("stroke-width",2);
 ax.selectAll("text").attr("font-size",34).style("fill","#111").attr("lengthAdjust","spacingAndGlyphs").attr("textLength",d=>d<0?69:58);
 // legend
 const leg=[["Salt",2089,2142,1676,1704,2136,36,"#6eb43f"],["Ozone",2235,2324,1679,1707,2283,53,"#9290b4"],["UV",2089,2130,1808,1836,2138,26,"#fccf00"],["High light",2235,2363,1812,1839,2284,86,"#b0d67e"],["Heat",2089,2154,1942,1968,2138,41,"#ee5a85"],["H2O2",2235,2311,1944,1971,2284,48,"#f99d1c"],["Osmotic",2089,2207,2073,2101,2136,71,"#00857a"],["FATTY ACID BIOSYNTHESIS",2235,2612,2075,2104,2284,259,"#5b3a8c"],["Oxidative",2089,2218,2206,2233,2136,73,"#e60026"],["AP2",2235,2291,2208,2236,2283,36,"#f9b27d"]];
 leg.forEach(d=>{
  fit(d[1],d[2],d[3],d[0],38,{weight:"bold"});
  g.append("rect").attr("x",d[1]).attr("y",d[4]).attr("width",43).attr("height",29).attr("fill",d[7]);
  fit(d[5],d[5]+d[6],d[4]+14,d[0],21,{fill:"#777"});
 });
})();

// ---------- E, F: dense networks
function hairball(cfg,sx,sy,withStroke,pinkCol,darkCol,hullCol,spokeW){
 const P=p=>[sx(p[0]),sy(p[1])];
 const pairs=a=>a.flatMap((p,i)=>a.slice(i+1).map(q=>[p,q]));
 const draw=(list,col,w,op)=>g.selectAll(null).data(list).join("line").attr("x1",d=>sx(d[0][0])).attr("y1",d=>sy(d[0][1])).attr("x2",d=>sx(d[1][0])).attr("y2",d=>sy(d[1][1])).attr("stroke",col).attr("stroke-width",w).attr("stroke-opacity",op);
 const spokes=cfg.nodes.flatMap(n=>{
  const k=n[2]>=14?6:(n[2]>=9?2:1);
  return cfg.pink.map(p=>[Math.hypot(p[0]-n[0],p[1]-n[1]),p]).sort((a,b)=>a[0]-b[0]).slice(0,k).map(d=>[n,d[1]]);
 });
 draw(spokes,pinkCol,spokeW,.8);
 g.append("path").attr("d",d3.line().curve(d3.curveCatmullRomClosed)(cfg.hull.map(P))).attr("fill",hullCol);
 draw(pairs(cfg.pink),pinkCol,2.5,.5);
 draw(pairs(cfg.blue),"#bcd8ec",2,.55);
 cfg.dark.forEach(c=>draw(pairs(c),darkCol,2,.55));
 cfg.extra.forEach(e=>g.append("line").attr("x1",sx(e[0])).attr("y1",sy(e[1])).attr("x2",sx(e[2])).attr("y2",sy(e[3])).attr("stroke",e[4]=="b"?"#bcd8ec":pinkCol).attr("stroke-width",spokeW));
 g.selectAll(null).data(cfg.nodes).join("circle").attr("cx",d=>sx(d[0])).attr("cy",d=>sy(d[1])).attr("r",d=>(sx(d[2])-sx(0))).attr("fill",d=>kindFill[d[3]]).attr("stroke",withStroke?"#666":"#c9423f").attr("stroke-width",withStroke?2:1);
}
const ey=d3.scaleLinear().domain([0,1568]).range([2280,2875]);
const ex=d3.scaleLinear().domain([0,1568]).range([0,1330]);
const fx=d3.scaleLinear().domain([0,1568]).range([1330,2651]);
hairball(ELeft,ex,ey,false,"#efc0ba","#c9675c","#f3d5d0",2.5);
hairball(ERight,ex,ey,false,"#f0c4be","#c9675c","#f5dcd8",2.5);
hairball(FLeft,fx,ey,true,"#f3d6d2","#eebdb6","#f4dbd7",3.5);
hairball(FRight,fx,ey,true,"#f3d6d2","#eebdb6","#f5dfdb",3.5);
const statColors=["#111","#c6262b","#2f8fd8"],statY=[2671,2725,2777];
function stats(vals,lefts,rights,labelSpans,foot){
 vals[0].forEach((v,i)=>fit(lefts[0][i],lefts[1],statY[i],v,34,{fill:statColors[i]}));
 vals[1].forEach((v,i)=>fit(rights[0],rights[1][i],statY[i],v,34,{fill:i==2?"#5aa7e0":statColors[i]}));
 statLabels.forEach((l,i)=>fit(labelSpans[i][0],labelSpans[i][1],statY[i],l,34,{weight:"bold"}));
 fit(foot[0],foot[1],2826,"Predetermined",32,{weight:"bold"});
 fit(foot[2],foot[2]+20,2826,"P",32,{weight:"bold",style:"italic"});
 fit(foot[2]+26,foot[3],2827,foot[6],32,{family:"Liberation Serif",fill:"#333"});
 fit(foot[4],foot[5],2826,"Random",32,{weight:"bold"});
}
stats(statsE,[[445,426,443],492],[810,[858,874,858]],[[570,740],[551,759],[545,765]],[335,549,596,712,766,888,"< 0.01"]);
stats(statsF,[[1861,1844,1890],1909],[2226,[2274,2290,2240]],[[1985,2156],[1966,2175],[1960,2181]],[1750,1964,2004,2135,2181,2303,"< 1E-11"]);
</script></body></html>
